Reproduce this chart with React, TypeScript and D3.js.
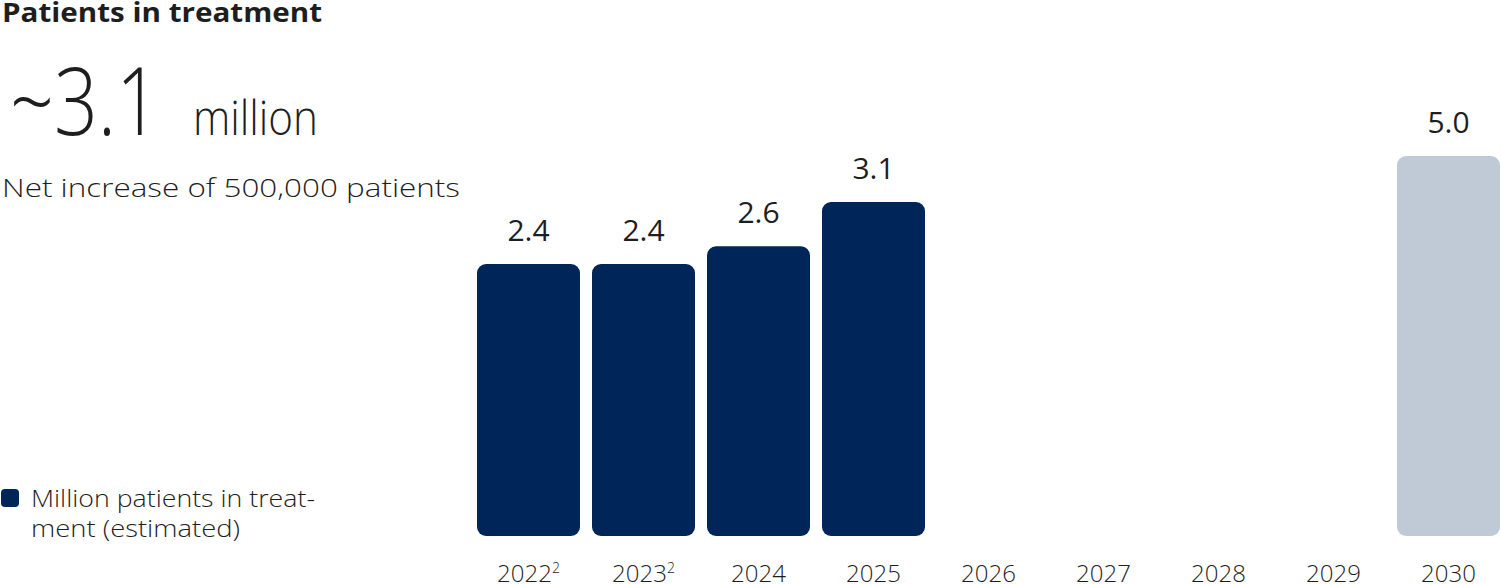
import React from "react";
import * as d3 from "d3";

const years = ["2022", "2023", "2024", "2025", "2026", "2027", "2028", "2029", "2030"];
const footnotes = ["2", "2", "", "", "", "", "", "", ""];
const values: (number | null)[] = [2.4, 2.4, 2.6, 3.1, null, null, null, null, 5.0];
const forecast = [false, false, false, false, false, false, false, false, true];
const valueLabels = ["2.4", "2.4", "2.6", "3.1", "", "", "", "", "5.0"];

const W = 1501;
const H = 584;
const NAVY = "#002558";
const LIGHT = "#c0c9d6";
const TEXT = "#1e1e1e";
const FONT = "'Open Sans', Lato, sans-serif";

export default function App() {
  const x = d3.scaleBand<string>().domain(years).range([477, 1500]).paddingInner(12 / 115).paddingOuter(0);
  const y = d3.scaleLinear().domain([0, 2.4, 3.1, 5.0]).range([536, 264, 202, 156]);
  const bw = x.bandwidth();
  const r = 9;
  const barPath = (x0: number, y0: number, w: number, h: number) => {
    const p = d3.path();
    p.moveTo(x0 + r, y0);
    p.lineTo(x0 + w - r, y0);
    p.arcTo(x0 + w, y0, x0 + w, y0 + r, r);
    p.lineTo(x0 + w, y0 + h - r);
    p.arcTo(x0 + w, y0 + h, x0 + w - r, y0 + h, r);
    p.lineTo(x0 + r, y0 + h);
    p.arcTo(x0, y0 + h, x0, y0 + h - r, r);
    p.lineTo(x0, y0 + r);
    p.arcTo(x0, y0, x0 + r, y0, r);
    p.closePath();
    return p.toString();
  };

  return (
    <svg width={W} height={H} style={{ position: "absolute", left: 0, top: 0 }} fontFamily={FONT}>
      <rect width={W} height={H} fill="#fff" />
      <text x={2} y={22} fontSize={26} fontWeight={700} fill={TEXT} textLength={320} lengthAdjust="spacingAndGlyphs">Patients in treatment</text>
      <text x={10} y={135} fontSize={94} fontWeight={300} fill={TEXT} textLength={150} lengthAdjust="spacingAndGlyphs">~3.1</text>
      <text x={193} y={135} fontSize={48} fontWeight={300} fill={TEXT} textLength={125} lengthAdjust="spacingAndGlyphs">million</text>
      <text x={2} y={197} fontSize={25} fontWeight={300} fill={TEXT} textLength={458} lengthAdjust="spacingAndGlyphs">Net increase of 500,000 patients</text>

      <rect x={1} y={489} width={18} height={18} rx={4} fill={NAVY} />
      <text x={31} y={507} fontSize={24} fontWeight={300} fill={TEXT} textLength={284} lengthAdjust="spacingAndGlyphs">Million patients in treat-</text>
      <text x={31} y={537} fontSize={24} fontWeight={300} fill={TEXT} textLength={209} lengthAdjust="spacingAndGlyphs">ment (estimated)</text>

      {years.map((yr, i) => {
        const v = values[i];
        const x0 = x(yr)!;
        const cx = x0 + bw / 2;
        return (
          <g key={yr}>
            {v !== null && (
              <>
                <path d={barPath(x0, y(v), bw, y(0) - y(v))} fill={forecast[i] ? LIGHT : NAVY} />
                <text x={cx} y={y(v) - 23} textAnchor="middle" fontSize={30} fontWeight={400} fill={TEXT}>
                  {valueLabels[i]}
                </text>
              </>
            )}
            <text x={cx} y={582} textAnchor="middle" fontSize={24} fontWeight={300} fill={TEXT}>
              {yr}
              {footnotes[i] && (
                <tspan fontSize={14} dy={-9}>{footnotes[i]}</tspan>
              )}
            </text>
          </g>
        );
      })}
    </svg>
  );
}
